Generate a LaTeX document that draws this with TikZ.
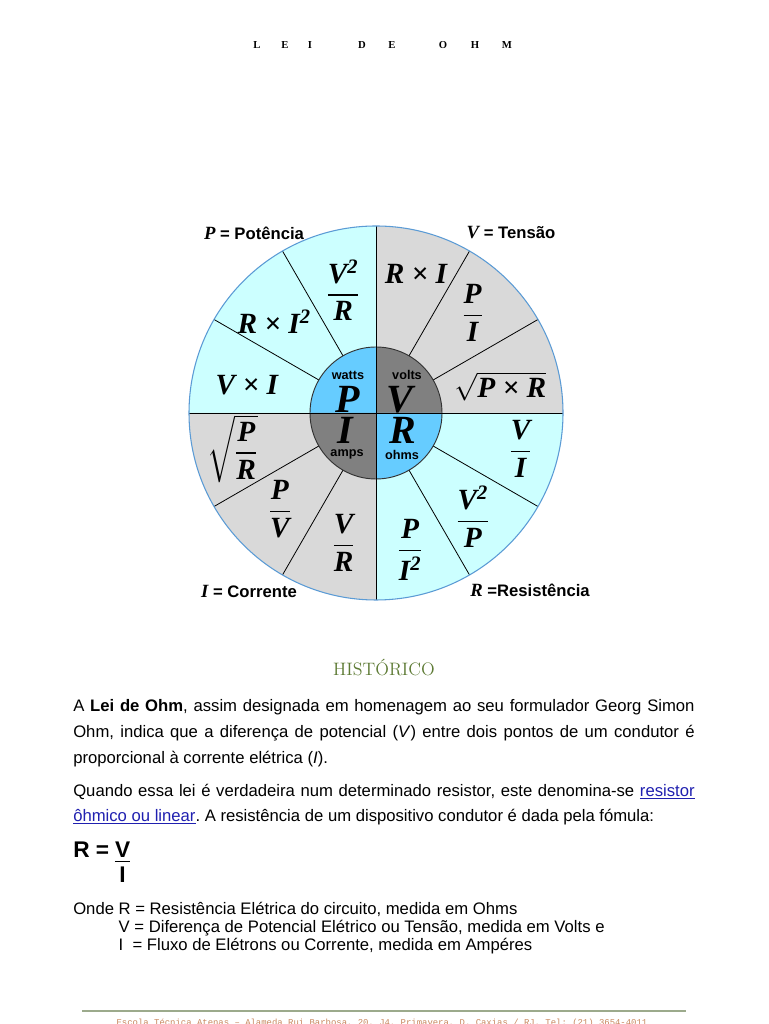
\documentclass[tikz,border=0pt]{standalone}
\usepackage{fontspec}
\usepackage{amsmath}
\usetikzlibrary{positioning}
\newfontfamily\wheelfont{Liberation Serif}
\newfontfamily\bodyfont{Liberation Sans}
\newfontfamily\footfont{Liberation Mono}
\definecolor{cyanfill}{HTML}{CCFFFF}
\definecolor{greyfill}{HTML}{D9D9D9}
\definecolor{hubblue}{HTML}{66CCFF}
\definecolor{hubgrey}{HTML}{808080}
\definecolor{rimblue}{HTML}{5B9BD5}
\definecolor{histgreen}{HTML}{5E7B35}
\definecolor{linkblue}{HTML}{2020B0}
\definecolor{footrule}{HTML}{9CAA8C}
\definecolor{foottext}{HTML}{C8875E}
\newcommand{\wfrac}[2]{$\genfrac{}{}{1.3pt}{0}{\text{#1}}{\text{#2}}$}
\newcommand{\two}{$^{\text{2}}$}
\newcommand{\qv}[1]{{\wheelfont\bfseries\itshape\fontsize{14}{14}\selectfont #1}}
\newcommand{\weblink}[1]{\textcolor{linkblue}{\underline{#1}}}
\frenchspacing

\begin{document}
\begin{tikzpicture}[x=0.75pt,y=0.75pt,
  term/.style={font=\wheelfont\bfseries\itshape\fontsize{22}{24}\selectfont,inner sep=0pt},
  hubletter/.style={font=\wheelfont\bfseries\itshape\fontsize{30}{30}\selectfont,inner sep=0pt,text depth=0pt},
  hubunit/.style={font=\bodyfont\bfseries\fontsize{9.5}{10}\selectfont,inner sep=0pt},
  qlabel/.style={font=\bodyfont\bfseries\fontsize{12.5}{14}\selectfont,inner sep=0pt},
  spoke/.style={draw=black,line width=0.6pt},
  para/.style={font=\bodyfont\fontsize{12.5}{19.5}\selectfont,text width=466pt,
    align=justify,inner sep=0pt,anchor=north west},
  lawtext/.style={font=\bodyfont\bfseries\fontsize{17}{20}\selectfont,inner sep=0pt,text depth=0pt},
  titlechar/.style={font=\wheelfont\bfseries\fontsize{8}{10}\selectfont,inner sep=0pt}]
  \fill[white] (0,0) rectangle (768,1024);
  \useasboundingbox (0,0) rectangle (768,1024);

  \foreach \ch/\x in {L/257,E/285,I/310,D/362,E/392,O/443,H/475,M/507}
    \node[titlechar] (title-\x) at (\x,979) {\ch};

  \begin{scope}[shift={(376,611)}]
    \foreach \s/\col in {0/greyfill,90/cyanfill,180/greyfill,270/cyanfill}
      \fill[\col] (0,0) -- (\s:187) arc[start angle=\s,delta angle=90,radius=187] -- cycle;
    \foreach \a in {30,60,120,150,210,240,300,330}
      \draw[spoke] (\a:66) -- (\a:187);
    \foreach \s/\col in {0/hubgrey,90/hubblue,180/hubgrey,270/hubblue}
      \fill[\col] (0,0) -- (\s:66) arc[start angle=\s,delta angle=90,radius=66] -- cycle;
    \draw[black!80,line width=0.7pt] (0,0) circle[radius=66];
    \draw[spoke] (180:187) -- (0:187);
    \draw[spoke] (270:187) -- (90:187);
    \draw[rimblue,line width=0.8pt] (0,0) circle[radius=187];

    \node[hubunit] (uP) at (-28,38) {watts};
    \node[hubletter] (hP) at (-28,14) {P};
    \node[hubunit] (uV) at (31,38) {volts};
    \node[hubletter] (hV) at (24,14) {V};
    \node[hubletter] (hI) at (-31,-17) {I};
    \node[hubunit] (uI) at (-29,-41) {amps};
    \node[hubletter] (hR) at (27,-17) {R};
    \node[hubunit] (uR) at (26,-42) {ohms};

    \node[term] (tVR) at (105:127) {\wfrac{V\two}{R}};
    \node[term] (tRI2) at (138:137) {R × I\two};
    \node[term] (tVI) at (168:132) {V × I};
    \node[term] (tRI) at (74:145) {R × I};
    \node[term] (tPI) at (46:139) {\wfrac{P}{I}};
    \node[term] (tsPR) at (12:127) {$\sqrt{\text{P × R}}$};
    \node[term] (tVoI) at (-14:149) {\wfrac{V}{I}};
    \node[term] (tV2P) at (-47:142) {\wfrac{V\two}{P}};
    \node[term] (tPI2) at (-76:141) {\wfrac{P}{I\two}};
    \node[term] (tVoR) at (-104:134) {\wfrac{V}{R}};
    \node[term] (tPoV) at (-135:136) {\wfrac{P}{V}};
    \node[term] (tsPoR) at (-166:148) {$\sqrt{\genfrac{}{}{1.3pt}{0}{\text{P}}{\text{R}}}$};

    \node[qlabel] (lP) at (-122,180) {\qv{P} = Potência};
    \node[qlabel] (lV) at (135,180) {\qv{V} = Tensão};
    \node[qlabel] (lI) at (-127,-178) {\qv{I} = Corrente};
    \node[qlabel] (lR) at (154,-177) {\qv{R} =Resistência};
  \end{scope}

  \node[font=\fontsize{13.5}{15}\selectfont,text=histgreen] (hist) at (384,356) {HISTÓRICO};

  \node[para] (p1) at (73,325) {A \textbf{Lei de Ohm}, assim designada em homenagem ao seu formulador Georg Simon\linebreak
    Ohm, indica que a diferença de potencial (\textit{V}) entre dois pontos de um condutor é\linebreak
    proporcional à corrente elétrica (\textit{I}).};
  \node[para,font=\bodyfont\fontsize{12.5}{18.75}\selectfont] (p2) at (73,240.5) {Quando essa lei é verdadeira num determinado resistor, este denomina-se \weblink{resistor}\linebreak
    \weblink{ôhmico ou linear}. A resistência de um dispositivo condutor é dada pela fómula:};

  \node[lawtext,anchor=base west] (lawR) at (73,166) {R =};
  \node[lawtext,anchor=base west] (lawV) at ([xshift=4pt]lawR.base east) {V};
  \node[lawtext,anchor=north] (lawI) at ([yshift=-6pt]lawV.south) {I};
  \draw[black,line width=1.1pt] ([yshift=-2.5pt]lawV.south west) -- ([yshift=-2.5pt]lawV.south east);

  \node[font=\bodyfont\fontsize{12.5}{13.5}\selectfont,inner sep=0pt,anchor=base west] (where) at (73,109)
    {\begin{tabular}[t]{@{}l@{ }l@{}}Onde & R = Resistência Elétrica do circuito, medida em Ohms\\
      & V = Diferença de Potencial Elétrico ou Tensão, medida em Volts e\\
      & I\ \ = Fluxo de Elétrons ou Corrente, medida em Ampéres\end{tabular}};

  \draw[footrule,line width=0.9pt] (82,13) -- (686,13);
  \node[font=\footfont\fontsize{6.7}{8}\selectfont,text=foottext,inner sep=0pt,anchor=base] (addr) at (382,-2)
    {Escola Técnica Atenas – Alameda Rui Barbosa, 20, J4, Primavera, D. Caxias / RJ. Tel: (21) 3654-4011};
\end{tikzpicture}
\end{document}
